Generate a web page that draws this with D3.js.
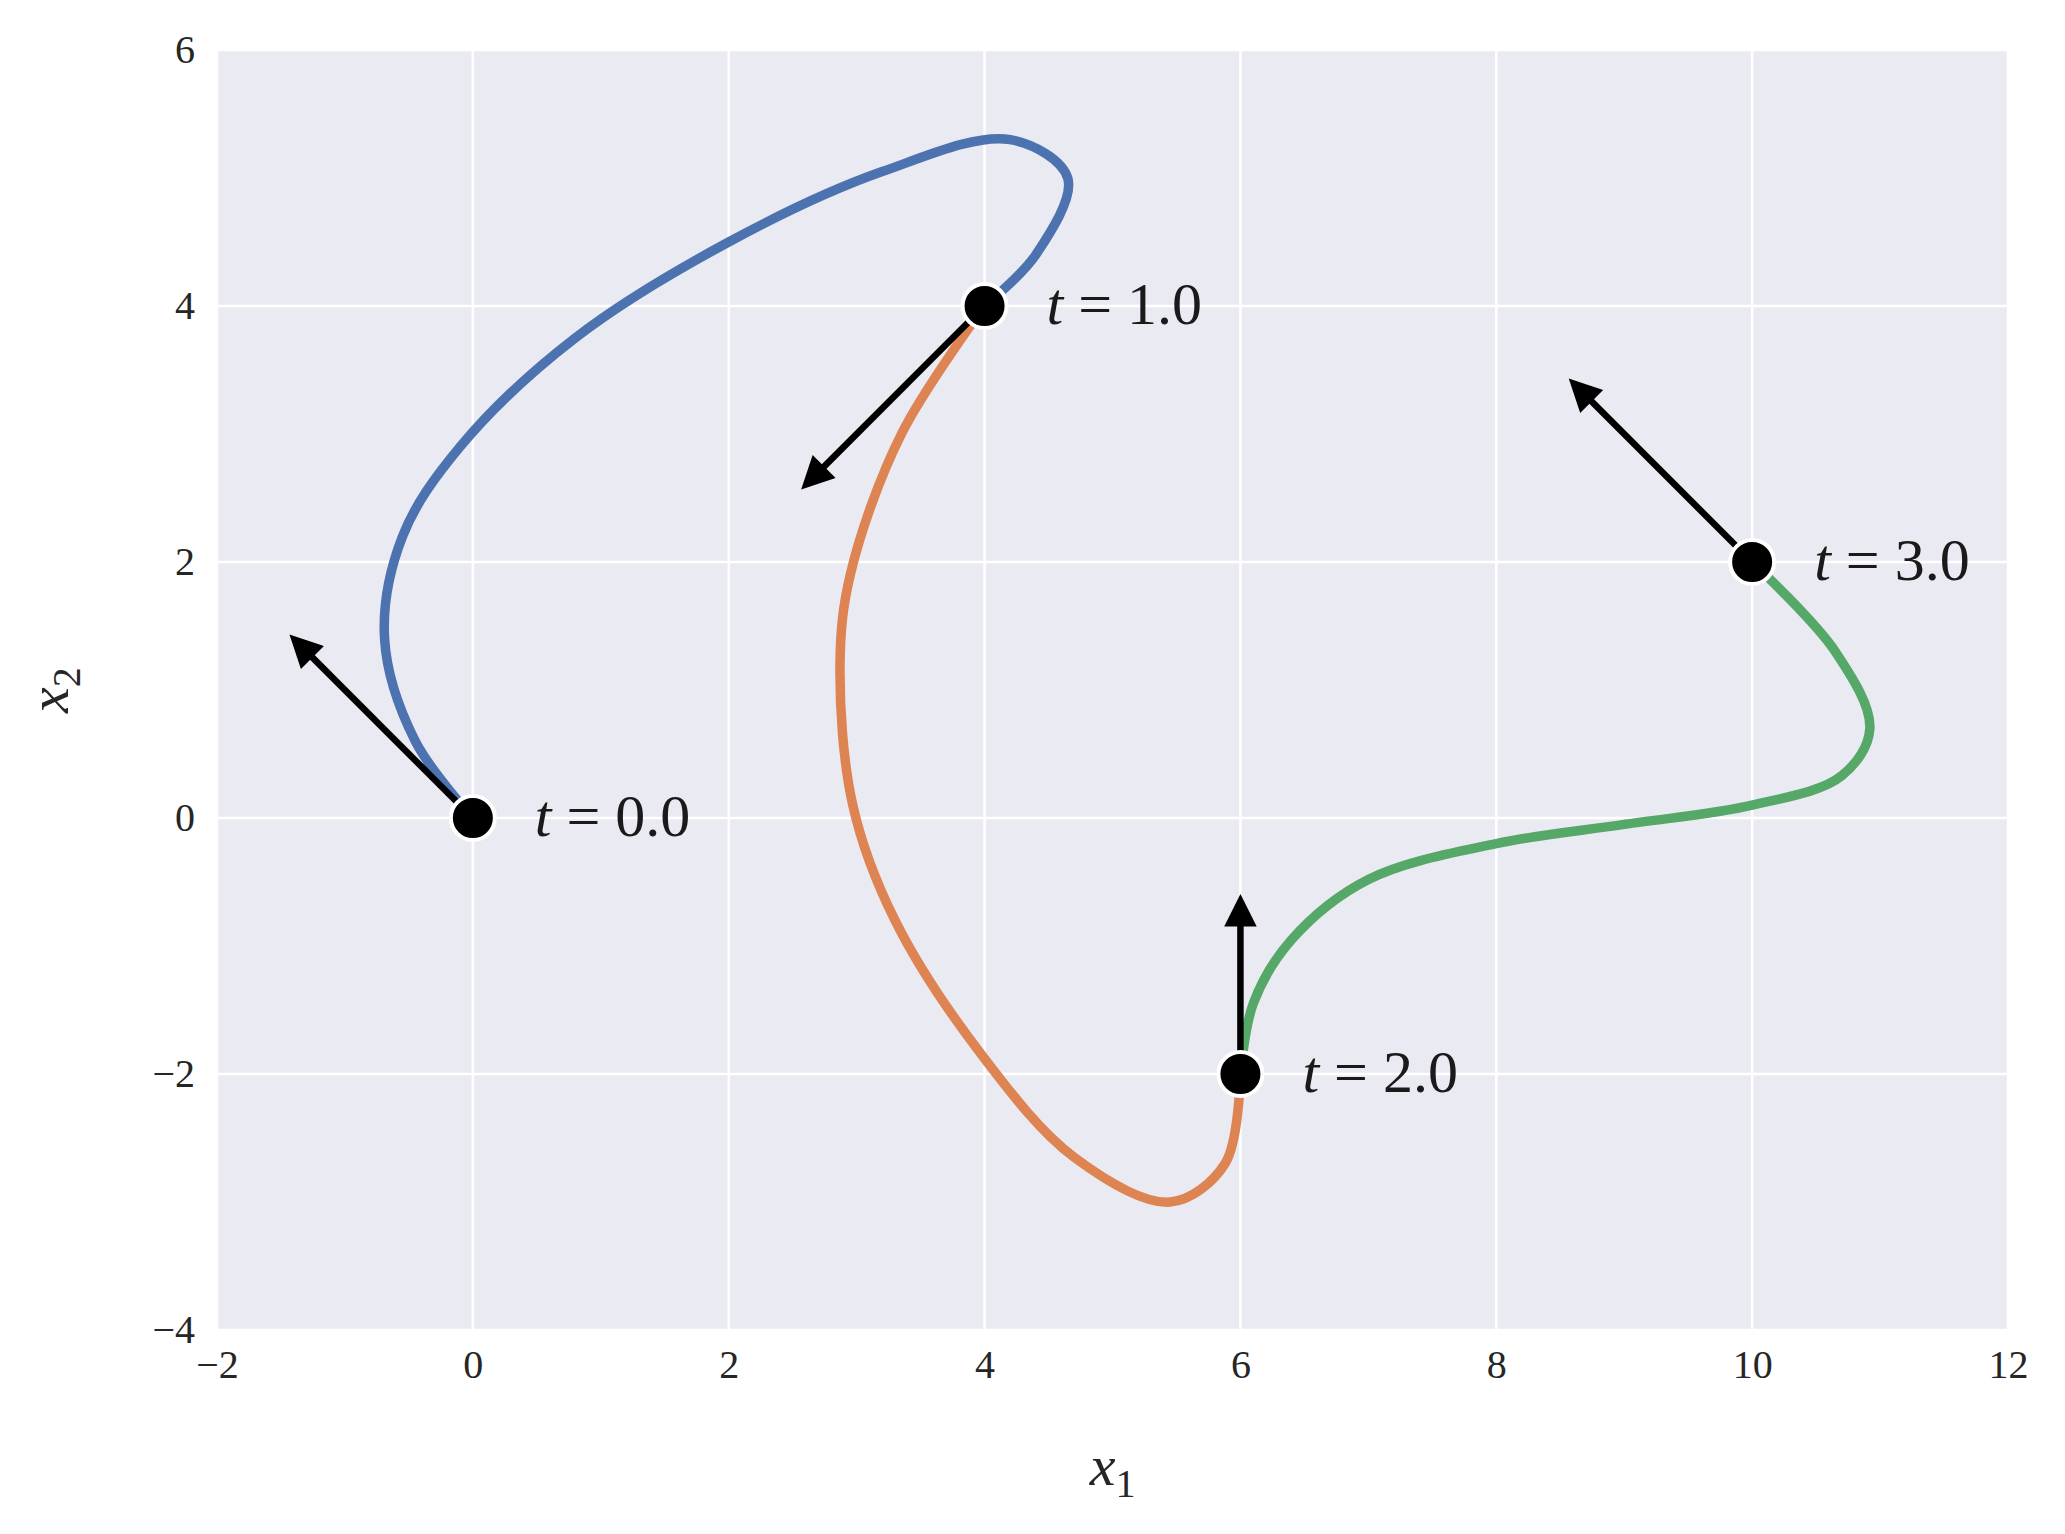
<!DOCTYPE html><html><head><meta charset="utf-8">
<script src="https://cdn.jsdelivr.net/npm/d3@7"></script>
<style>body{margin:0;background:#fff}</style></head><body><svg id="c" width="2065" height="1534"></svg>
<script>
const xTicks=[-2,0,2,4,6,8,10,12];
const yTicks=[-4,-2,0,2,4,6];
const seg1=[[0,0],[-0.45,0.6],[-0.69,1.4],[-0.55,2.2],[-0.1,2.9],[0.8,3.75],[2,4.5],[3.2,5.05],[4.2,5.3],[4.65,5.0],[4.4,4.4],[4,4]];
const seg2=[[4,4],[3.35,3.0],[2.95,1.9],[2.87,1.2],[2.97,0.1],[3.3,-0.8],[3.97,-1.84],[4.7,-2.65],[5.45,-3.0],[5.88,-2.7],[6,-2]];
const seg3=[[6,-2],[6.1,-1.45],[6.4,-0.95],[7,-0.48],[8,-0.2],[9,-0.05],[10,0.1],[10.7,0.33],[10.92,0.7],[10.65,1.3],[10,2]];
const segColors=["#4c72b0","#dd8452","#55a868"];
const knots=[[0,0],[4,4],[6,-2],[10,2]];
const knotLabels=["t = 0.0","t = 1.0","t = 2.0","t = 3.0"];
const tangents=[[-1.5,1.5],[-1.5,-1.5],[0,1.5],[-1.5,1.5]];

const svg=d3.select("#c");
const L=217,R=2008,T=50,B=1330;
const x=d3.scaleLinear().domain([-2,12]).range([L,R]);
const y=d3.scaleLinear().domain([-4,6]).range([B,T]);
svg.append("rect").attr("x",L).attr("y",T).attr("width",R-L).attr("height",B-T).attr("fill","#eaeaf2");
const g=svg.append("g");
g.selectAll(".vx").data(xTicks).join("line").attr("x1",d=>x(d)).attr("x2",d=>x(d)).attr("y1",T).attr("y2",B).attr("stroke","#fff").attr("stroke-width",2.5);
g.selectAll(".hy").data(yTicks).join("line").attr("y1",d=>y(d)).attr("y2",d=>y(d)).attr("x1",L).attr("x2",R).attr("stroke","#fff").attr("stroke-width",2.5);
const font="'Liberation Serif', serif";
const fmt=d=>d<0?"\u2212"+(-d):""+d;
const xa=svg.append("g").attr("transform",`translate(0,${B})`).call(d3.axisBottom(x).tickValues(xTicks).tickFormat(fmt).tickSize(0).tickPadding(20));
const ya=svg.append("g").attr("transform",`translate(${L},0)`).call(d3.axisLeft(y).tickValues(yTicks).tickFormat(fmt).tickSize(0).tickPadding(22));
[xa,ya].forEach(a=>{a.select(".domain").remove();a.selectAll("text").attr("font-family",font).attr("font-size",40).attr("fill","#262626");});
svg.append("text").attr("x",(L+R)/2).attr("y",1485).attr("text-anchor","middle").attr("font-family",font).attr("font-style","italic").attr("font-size",58).attr("fill","#262626").html('x<tspan font-size="40" dy="12" font-style="normal">1</tspan>');
svg.append("text").attr("transform",`translate(68,${(T+B)/2}) rotate(-90)`).attr("text-anchor","middle").attr("font-family",font).attr("font-style","italic").attr("font-size",58).attr("fill","#262626").html('x<tspan font-size="40" dy="12" font-style="normal">2</tspan>');
const line=d3.line().x(d=>x(d[0])).y(d=>y(d[1])).curve(d3.curveCatmullRom.alpha(0.5));
[seg1,seg2,seg3].forEach((s,i)=>g.append("path").attr("d",line(s)).attr("fill","none").attr("stroke",segColors[i]).attr("stroke-width",9.5).attr("stroke-linejoin","round"));
svg.append("defs").append("marker").attr("id","ah").attr("viewBox","0 0 10 10").attr("refX",2).attr("refY",5).attr("markerWidth",6).attr("markerHeight",5).attr("markerUnits","strokeWidth").attr("orient","auto").append("path").attr("d","M0,0L10,5L0,10z").attr("fill","#000");
knots.forEach((k,i)=>{
  const t=tangents[i];
  const x1=x(k[0]),y1=y(k[1]),x2=x(k[0]+t[0]),y2=y(k[1]+t[1]);
  const len=Math.hypot(x2-x1,y2-y1),sh=(len-38)/len;
  g.append("line").attr("x1",x1).attr("y1",y1).attr("x2",x1+(x2-x1)*sh).attr("y2",y1+(y2-y1)*sh).attr("stroke","#000").attr("stroke-width",6.5).attr("marker-end","url(#ah)");
});
g.selectAll(".k").data(knots).join("circle").attr("cx",d=>x(d[0])).attr("cy",d=>y(d[1])).attr("r",22).attr("fill","#000").attr("stroke","#fff").attr("stroke-width",4);
g.selectAll(".kl").data(knots).join("text").attr("x",d=>x(d[0])+62).attr("y",d=>y(d[1])+18).attr("font-family",font).attr("font-size",60).attr("fill","#1a1a1a")
 .html((d,i)=>'<tspan font-style="italic">t</tspan> = '+knotLabels[i].slice(4));
</script></body></html>
